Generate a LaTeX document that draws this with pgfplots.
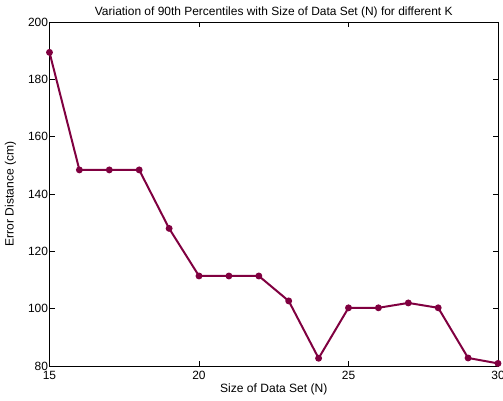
\documentclass[border=0pt]{standalone}
\usepackage{pgfplots}
\pgfplotsset{compat=1.18}
\usepackage{fontspec}
\setmainfont{Liberation Sans}
\definecolor{maroon}{RGB}{128,0,64}
\begin{document}
\begin{tikzpicture}
\begin{axis}[
  scale only axis,
  width=448.5bp, height=344bp,
  xmin=15, xmax=30, ymin=80, ymax=200,
  xtick={15,20,25,30}, ytick={80,100,...,200},
  tick align=inside,
  major tick length=5bp,
  axis line style={line width=0.9pt},
  every tick/.style={black, line width=0.6pt},
  tick label style={font=\fontsize{12}{14}\selectfont},
  /pgf/number format/assume math mode=true,
  xticklabel style={yshift=-2bp},
  yticklabel style={xshift=2bp},
  title={Variation of 90th Percentiles with Size of Data Set (N) for different K},
  title style={font=\fontsize{12}{14}\selectfont, yshift=-5bp},
  xlabel={Size of Data Set (N)},
  ylabel={Error Distance (cm)},
  label style={font=\fontsize{12.1}{14}\selectfont},
  xlabel style={yshift=3bp},
  ylabel style={yshift=5bp},
  clip=false,
]
\addplot[color=maroon, line width=2pt, mark=*, mark size=2.4pt, mark options={fill=maroon}]
coordinates {
(15,189.4) (16,148.4) (17,148.4) (18,148.4) (19,128.0) (20,111.4) (21,111.4) (22,111.4)
(23,102.7) (24,82.7) (25,100.3) (26,100.3) (27,102.0) (28,100.3) (29,82.8) (30,80.9)
};
\end{axis}
\pgfresetboundingbox
\path[use as bounding box] ([xshift=-49.5bp,yshift=-35bp]current axis.south west) rectangle ([xshift=5bp,yshift=22bp]current axis.north east);
\end{tikzpicture}
\end{document}
